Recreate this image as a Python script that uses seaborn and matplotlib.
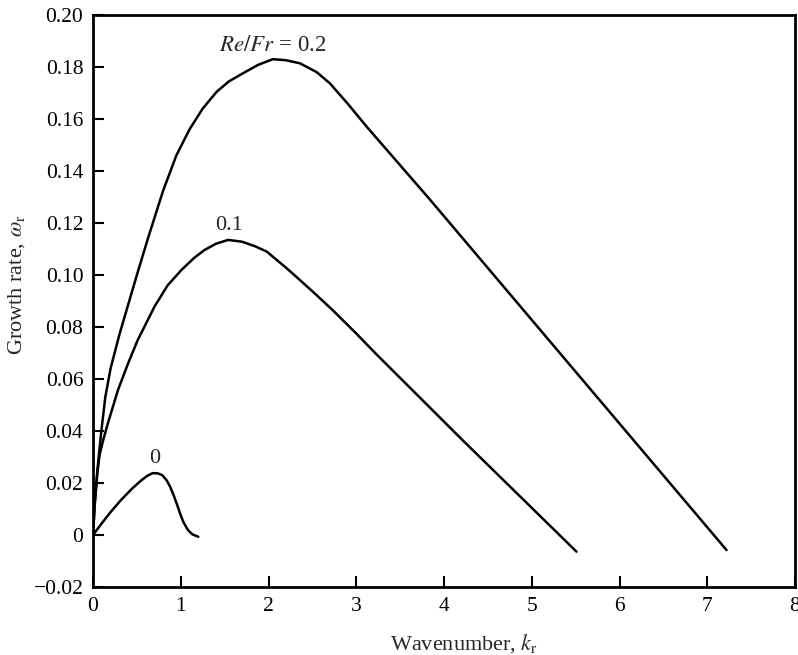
import matplotlib
matplotlib.use("Agg")
import matplotlib.pyplot as plt
import seaborn as sns
import pandas as pd

# Re/Fr = 0
k_0 = [0, 0.1, 0.2, 0.32, 0.45, 0.55, 0.62, 0.68, 0.74, 0.79, 0.84, 0.88, 0.92, 0.96,
       0.99, 1.03, 1.08, 1.13, 1.2]
w_0 = [0, 0.0045, 0.0088, 0.0135, 0.018, 0.021, 0.0228, 0.0238, 0.0237, 0.023, 0.021,
       0.0185, 0.0152, 0.0115, 0.0085, 0.005, 0.002, 0.0003, -0.0007]

# Re/Fr = 0.1
k_01 = [0, 0.02, 0.05, 0.076, 0.12, 0.17, 0.285, 0.4, 0.51, 0.7, 0.85, 1.01, 1.15, 1.27,
        1.4, 1.54, 1.7, 1.85, 1.98, 2.2, 2.36, 2.55, 2.74, 3.0, 3.23, 4.22, 5.51]
w_01 = [0, 0.012, 0.024, 0.031, 0.037, 0.043, 0.0558, 0.066, 0.075, 0.0878, 0.096, 0.102,
        0.1065, 0.1096, 0.112, 0.1135, 0.1128, 0.111, 0.109, 0.1028, 0.098, 0.0922, 0.0862,
        0.0775, 0.0695, 0.0362, -0.0064]

# Re/Fr = 0.2
k_02 = [0, 0.02, 0.05, 0.095, 0.14, 0.2, 0.3, 0.4, 0.5, 0.63, 0.8, 0.95, 1.1, 1.25, 1.41,
        1.55, 1.71, 1.88, 2.05, 2.2, 2.36, 2.55, 2.7, 2.9, 3.12, 3.84, 7.22]
w_02 = [0, 0.012, 0.025, 0.040, 0.053, 0.064, 0.077, 0.0885, 0.100, 0.1145, 0.1325, 0.146,
        0.156, 0.164, 0.1705, 0.1745, 0.1776, 0.1808, 0.183, 0.1826, 0.1814, 0.178, 0.1737,
        0.166, 0.157, 0.129, -0.0058]

series_names = ["0", "0.1", "0.2"]

x_ticks = [0, 1, 2, 3, 4, 5, 6, 7, 8]
y_ticks = [-0.02, 0, 0.02, 0.04, 0.06, 0.08, 0.10, 0.12, 0.14, 0.16, 0.18, 0.20]
y_tick_labels = ["\u22120.02", "0", "0.02", "0.04", "0.06", "0.08", "0.10", "0.12",
                 "0.14", "0.16", "0.18", "0.20"]

frames = []
for name, k, w in zip(series_names, [k_0, k_01, k_02], [w_0, w_01, w_02]):
    frames.append(pd.DataFrame({"k": k, "w": w, "series": name}))
df = pd.concat(frames, ignore_index=True)

sns.set_theme(style="ticks")
plt.rcParams["font.family"] = ["Liberation Serif", "DejaVu Serif"]
plt.rcParams["mathtext.fontset"] = "stix"

fig = plt.figure(figsize=(7.98, 6.55), dpi=100)
ax = fig.add_axes([93 / 798, 1 - 587 / 655, 702 / 798, 572 / 655])

sns.lineplot(data=df, x="k", y="w", hue="series", units="series", estimator=None,
             sort=False, palette={"0": "black", "0.1": "black", "0.2": "black"},
             linewidth=1.8, legend=False, ax=ax)
for ln in ax.lines:
    ln.set_solid_joinstyle("round")
    ln.set_solid_capstyle("round")

ax.set_xlim(0, 8)
ax.set_ylim(-0.02, 0.20)
ax.set_xticks(x_ticks)
ax.set_xticklabels([str(t) for t in x_ticks])
ax.set_yticks(y_ticks)
ax.set_yticklabels(y_tick_labels)
ax.tick_params(direction="in", length=8, width=1.5, labelsize=15.5, pad=7,
               colors="black", top=False, right=False)
for s in ax.spines.values():
    s.set_linewidth(2)
    s.set_color("black")

ax.set_xlabel(r"Wavenumber, $k_\mathrm{r}$", fontsize=16)
ax.set_ylabel(r"Growth rate, $\omega_\mathrm{r}$", fontsize=16)
ax.xaxis.set_label_coords(0.528, -0.078)
ax.yaxis.set_label_coords(-0.094, 0.528)

ax.text(2.05, 0.186, r"$Re/Fr$ = 0.2", ha="center", va="baseline", fontsize=16.5)
ax.text(1.55, 0.1173, "0.1", ha="center", va="baseline", fontsize=16)
ax.text(0.70, 0.0277, "0", ha="center", va="baseline", fontsize=16)

fig.savefig("out.png", dpi=100)
